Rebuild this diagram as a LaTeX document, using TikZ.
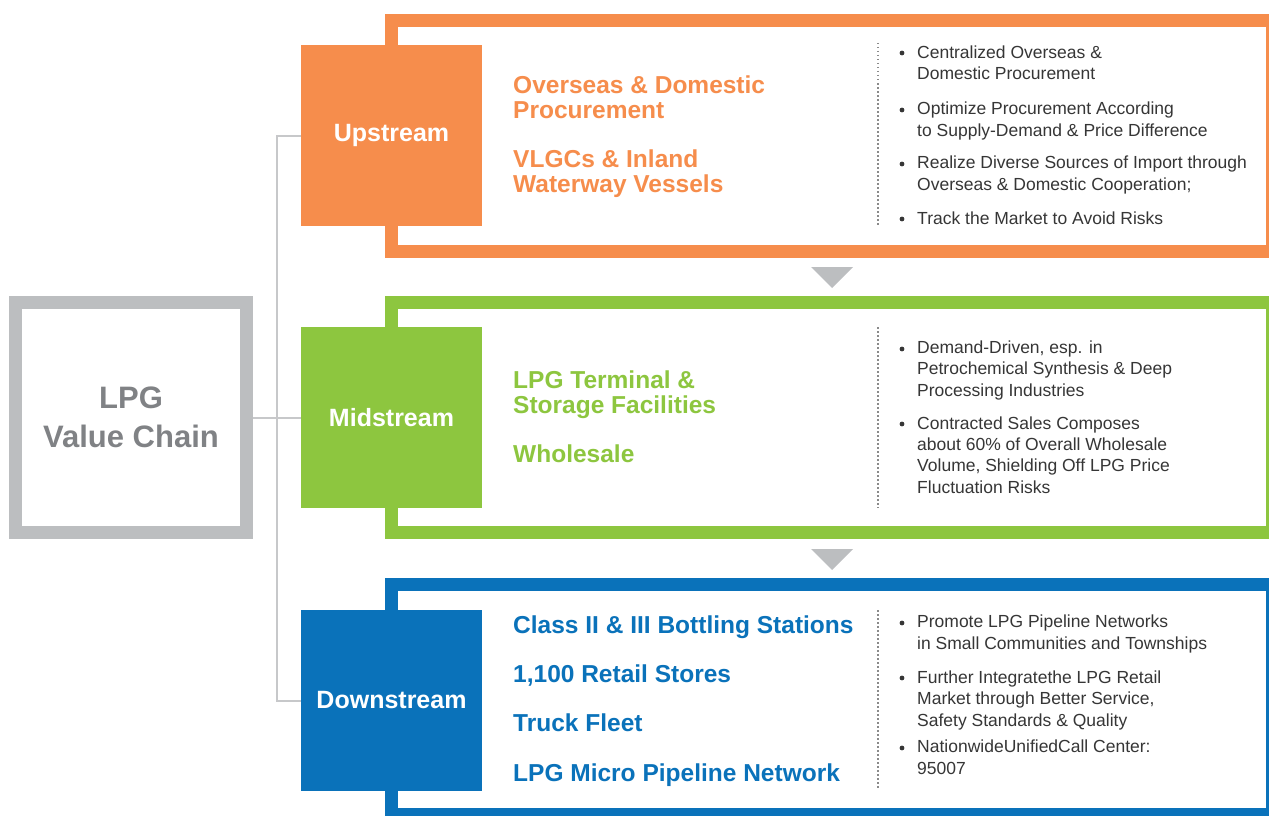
\documentclass[tikz,border=0pt]{standalone}
\usepackage{fontspec}
\setmainfont{Liberation Sans}
\usetikzlibrary{positioning}

\definecolor{upcol}{HTML}{F68D4C}
\definecolor{midcol}{HTML}{8DC63F}
\definecolor{downcol}{HTML}{0A72BA}
\definecolor{framegrey}{HTML}{BCBEC0}
\definecolor{linkgrey}{HTML}{C7C8CA}
\definecolor{chaintext}{HTML}{808285}
\definecolor{bodytext}{HTML}{363636}
\definecolor{dotgrey}{HTML}{8A8A8A}

\begin{document}
\begin{tikzpicture}[x=1pt,y=-1pt,
    every node/.style={inner sep=0pt},
    stagebox/.style={minimum width=181pt,minimum height=181pt,text=white,
        font=\fontsize{25}{30}\selectfont\bfseries},
    chainbox/.style={draw=framegrey,line width=13pt,minimum width=231pt,minimum height=230pt,
        align=center,text=chaintext,font=\fontsize{31}{39}\selectfont\bfseries},
    headtext/.style={anchor=base west,align=left,font=\fontsize{24.5}{25}\selectfont\bfseries},
    notetext/.style={anchor=base west,align=left,text=bodytext,font=\fontsize{17.5}{21.3}\selectfont},
    link/.style={draw=linkgrey,line width=2pt},
    sep/.style={draw=dotgrey,line width=1.2pt,dash pattern=on 1.5pt off 2.5pt}]

    \useasboundingbox (0,0) rectangle (1269,816);

    % Coloured frames (thick top/left/bottom, thin right edge)
    \foreach \col/\top/\bot/\ibot in {upcol/14/258/245, midcol/296/539/526, downcol/578/816/808} {
        \fill[\col] (385,\top) rectangle (1269,\bot);
        \fill[white] (398,\top+13) rectangle (1266,\ibot);
    }

    % Arrows between the stages
    \foreach \t in {267,549} {
        \fill[framegrey] (811,\t) -- (853,\t) -- (832,\t+21) -- cycle;
    }

    % Dotted separators
    \foreach \a/\b in {43/225, 327/508, 610/790} {
        \draw[sep] (878,\a) -- (878,\b);
    }

    % Main box and stage boxes
    \node[chainbox] (lpg) at (131,417.5) {LPG\\Value Chain};
    \node[stagebox,fill=upcol] (up) at (391.5,135.5) {Upstream};
    \node[stagebox,fill=midcol] (mid) at (391.5,417.5) {Midstream};
    \node[stagebox,fill=downcol] (down) at (391.5,700.5) {Downstream};

    % Connectors
    \coordinate (trunk) at (277,417.5);
    \draw[link] (lpg.east) -- (mid.west);
    \draw[link] (up.west) -| (trunk) |- (down.west);

    % Stage contents (placed at the baseline of the last line)
    \node[headtext,text=upcol] (u1) at (513,118) {Overseas \& Domestic\\Procurement};
    \node[headtext,text=upcol] (u2) at (513,192) {VLGCs \& Inland\\Waterway Vessels};
    \node[headtext,text=midcol] (m1) at (513,413) {LPG Terminal \&\\Storage Facilities};
    \node[headtext,text=midcol] (m2) at (513,462) {Wholesale};
    \node[headtext,text=downcol] (d1) at (513,633) {Class II \& III Bottling Stations};
    \node[headtext,text=downcol] (d2) at (513,682) {1,100 Retail Stores};
    \node[headtext,text=downcol] (d3) at (513,731) {Truck Fleet};
    \node[headtext,text=downcol] (d4) at (513,781) {LPG Micro Pipeline Network};

    % Bullet notes
    \foreach \y in {58,115,169,224,354,429,628,683,753} {
        \fill[bodytext] (902,\y-5) circle (2.4pt);
    }
    \node[notetext] (un1) at (917,80) {Centralized Overseas \&\\Domestic Procurement};
    \node[notetext] (un2) at (917,136) {Optimize Procurement According\\to Supply-Demand \& Price Difference};
    \node[notetext] (un3) at (917,190) {Realize Diverse Sources of Import through\\Overseas \& Domestic Cooperation;};
    \node[notetext] (un4) at (917,224) {Track the Market to Avoid Risks};
    \node[notetext] (mn1) at (917,396) {Demand-Driven, esp. in\\Petrochemical Synthesis \& Deep\\Processing Industries};
    \node[notetext] (mn2) at (917,493) {Contracted Sales Composes\\about 60\% of Overall Wholesale\\Volume, Shielding Off LPG Price\\Fluctuation Risks};
    \node[notetext] (dn1) at (917,649) {Promote LPG Pipeline Networks\\in Small Communities and Townships};
    \node[notetext] (dn2) at (917,726) {Further Integratethe LPG Retail\\Market through Better Service,\\Safety Standards \& Quality};
    \node[notetext] (dn3) at (917,774) {NationwideUnifiedCall Center:\\95007};

\end{tikzpicture}
\end{document}
